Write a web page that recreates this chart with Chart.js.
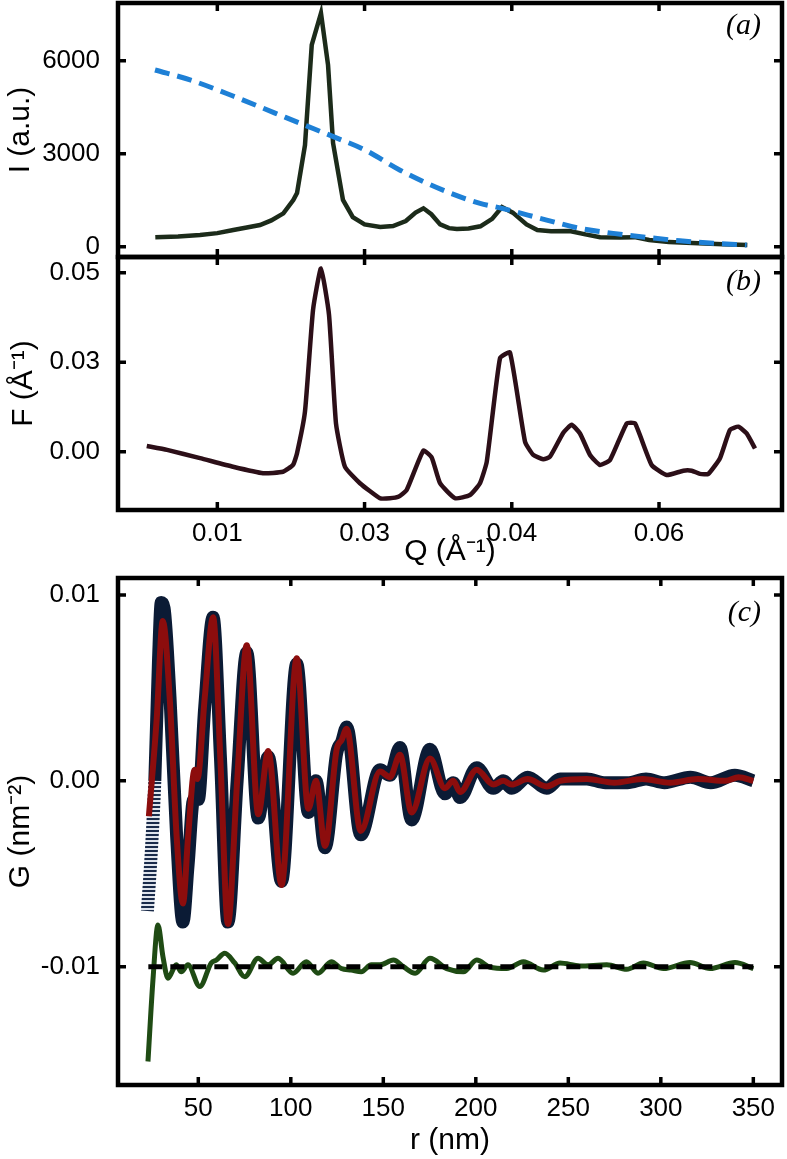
<!DOCTYPE html>
<html>
<head>
<meta charset="utf-8">
<script src="https://cdn.jsdelivr.net/npm/chart.js@4.4.1/dist/chart.umd.min.js"></script>
<style>
  body { margin: 0; background: #fff; }
  #wrap { position: relative; width: 787px; height: 1159px; }
  canvas { position: absolute; left: 0; }
</style>
</head>
<body>
<div id="wrap">
  <canvas id="chartA" width="787" height="262" style="top:0px"></canvas>
  <canvas id="chartB" width="787" height="320" style="top:250px"></canvas>
  <canvas id="chartC" width="787" height="589" style="top:570px"></canvas>
</div>
<script>
// tick values and their printed labels
const qTicks = [0.01, 0.025, 0.04, 0.055];
const qTickLabels = ['0.01', '0.03', '0.04', '0.06'];
const iTicks = [0, 3000, 6000];
const iTickLabels = ['0', '3000', '6000'];
const fTicks = [0, 0.025, 0.05];
const fTickLabels = ['0.00', '0.03', '0.05'];
const rTicks = [50, 100, 150, 200, 250, 300, 350];
const rTickLabels = ['50', '100', '150', '200', '250', '300', '350'];
const gTicks = [-0.01, 0, 0.01];
const gTickLabels = ['-0.01', '0.00', '0.01'];

// (a) measured intensity
const qObs = [0.00368, 0.0060, 0.00824, 0.0100, 0.01163, 0.0130, 0.01435, 0.0155, 0.01673, 0.01774,
  0.01812, 0.01893, 0.01962, 0.02056, 0.02128, 0.02179, 0.0228, 0.0238, 0.0250, 0.0266,
  0.0279, 0.0292, 0.0302, 0.0310, 0.0318, 0.0327, 0.0336, 0.0344, 0.0356, 0.0368,
  0.0380, 0.0390, 0.0401, 0.0415, 0.0426, 0.0440, 0.0459, 0.0475, 0.0490, 0.0510,
  0.0525, 0.0540, 0.0560, 0.0590, 0.0615, 0.0640];
const iObs = [303, 330, 377, 440, 539, 620, 700, 850, 1077, 1506,
  1732, 3275, 6510, 7530, 5860, 3345, 1510, 955, 720, 640,
  670, 830, 1100, 1240, 1050, 720, 600, 570, 590, 660,
  900, 1280, 1100, 720, 540, 500, 510, 400, 310, 300,
  310, 220, 150, 110, 80, 60];

// (a) dashed model curve
const qCalc = [0.00365, 0.00722, 0.0116, 0.01588, 0.01843, 0.02182, 0.02505, 0.02862, 0.03337, 0.03677,
  0.0390, 0.04356, 0.04695, 0.05034, 0.05375, 0.05714, 0.06053, 0.06393];
const iCalc = [5700, 5380, 4860, 4310, 3980, 3550, 3120, 2470, 1775, 1400,
  1240, 861, 593, 432, 303, 194, 110, 55];

// (b) reduced structure function
const fQ = [0.00281, 0.00488, 0.00824, 0.0116, 0.01466, 0.01669, 0.01771, 0.01812, 0.01893, 0.01975,
  0.02056, 0.02138, 0.02209, 0.0230, 0.02453, 0.02657, 0.02759, 0.02844, 0.02929, 0.03099,
  0.03184, 0.03269, 0.03422, 0.03574, 0.03676, 0.03745, 0.0388, 0.03982, 0.04135, 0.04219,
  0.04321, 0.04389, 0.04525, 0.0461, 0.04695, 0.04797, 0.04899, 0.05001, 0.05171, 0.05256,
  0.05425, 0.05578, 0.05747, 0.05833, 0.05917, 0.06002, 0.06121, 0.06223, 0.06308, 0.06393,
  0.06478];
const fVal = [0.0016, 0.0005, -0.0018, -0.0042, -0.0060, -0.0056, -0.0037, -0.0004, 0.0112, 0.0396,
  0.0512, 0.0382, 0.0079, -0.0042, -0.0088, -0.0130, -0.0130, -0.0126, -0.0107, 0.0003,
  -0.0016, -0.0088, -0.0130, -0.0121, -0.0088, -0.0028, 0.0261, 0.0277, 0.0028, -0.0009,
  -0.0021, -0.0014, 0.0053, 0.0075, 0.0051, -0.0009, -0.0037, -0.0023, 0.0079, 0.0079,
  -0.0037, -0.0065, -0.0053, -0.0053, -0.0062, -0.0062, -0.0018, 0.0061, 0.0070, 0.0051,
  0.0009];

// (c) PDF data (circles)
const rObs = [22.5, 24.5, 26.5, 28.5, 30.0, 31.5, 34.7, 38.3, 41.7, 44.5,
  47.5, 50.0, 53.5, 58.0, 62.0, 66.0, 71.0, 76.2, 82.4, 87.8,
  95.0, 103.2, 109.5, 113.6, 118.5, 124.8, 127.5, 130.2, 137.8, 148.2,
  153.6, 159.0, 165.3, 175.2, 183.3, 187.8, 191.5, 200.5, 209.5, 214.9,
  219.4, 228, 238.3, 245.5, 260, 270, 282, 292, 302, 316,
  327, 340, 350];
const gObs = [-0.0070, -0.0040, 0.0000, 0.0065, 0.0096, 0.0093, 0.0045, -0.0030, -0.0076, -0.0045,
  -0.0010, -0.0010, 0.0040, 0.0088, 0.0012, -0.0076, 0.0000, 0.0069, -0.0020, 0.0013,
  -0.0054, 0.0063, -0.0017, 0.0000, -0.0036, 0.0015, 0.0021, 0.0029, -0.0029, 0.0006,
  0.0003, 0.0018, -0.0021, 0.0017, -0.0007, -0.0001, -0.0009, 0.0007, -0.0004, 0.0000,
  -0.0004, 0.0002, -0.0004, 0.0001, 0.0001, -0.0001, -0.0001, 0.0001, -0.0001, 0.0002,
  -0.0001, 0.0003, 0.0000];

// (c) fit
const rFit = [23.3, 27.5, 30.8, 34.7, 38.3, 41.7, 44.5, 48.0, 49.5, 53.5,
  58.0, 62.0, 66.0, 71.0, 76.2, 82.4, 87.8, 95.0, 103.2, 109.5,
  113.6, 118.5, 124.8, 127.5, 130.2, 137.8, 148.2, 153.6, 159.0, 165.3,
  175.2, 183.3, 187.8, 191.5, 200.5, 209.5, 214.9, 219.4, 228, 238.3,
  245.5, 260, 275, 290, 305, 320, 335, 342, 350];
const gFit = [-0.0019, 0.0033, 0.0086, 0.0042, -0.0030, -0.0066, -0.0030, 0.0006, 0.0001, 0.0045,
  0.0088, 0.0010, -0.0077, 0.0000, 0.0073, -0.0018, 0.0016, -0.0056, 0.0066, -0.0015,
  0.0000, -0.0035, 0.0017, 0.0022, 0.0028, -0.0027, 0.0005, 0.0002, 0.0014, -0.0017,
  0.0012, -0.0004, 0.0000, -0.0006, 0.0006, -0.0002, 0.0000, -0.0002, 0.0001, -0.0003,
  0.0000, 0.0001, -0.0001, 0.0001, -0.0001, 0.0001, 0.0000, 0.0002, 0.0000];

// (c) difference, shifted by -0.01
const rDiff = [22.8, 25.5, 28.2, 30.9, 33.6, 38.1, 40.8, 44.4, 50.8, 57.0,
  59.8, 64.3, 69.7, 75.1, 82.3, 87.7, 93.1, 101.2, 108.4, 114.7,
  121.9, 127.3, 132.7, 138.1, 143.5, 148.2, 155.5, 160.9, 167.2, 175.2,
  184.3, 193.3, 200.5, 207.7, 216.7, 225.7, 236.5, 245.5, 256.3, 270.8,
  281.6, 290.6, 301.4, 315.8, 326.6, 340.1, 350];
const gDiff = [-0.0151, -0.0107, -0.00776, -0.00946, -0.01062, -0.0099, -0.01027, -0.0099, -0.01107, -0.0098,
  -0.00964, -0.00928, -0.0098, -0.01054, -0.00955, -0.0099, -0.00955, -0.01035, -0.00973, -0.01035,
  -0.00973, -0.0101, -0.01018, -0.01027, -0.0099, -0.0099, -0.00964, -0.0100, -0.01035, -0.00955,
  -0.0101, -0.01027, -0.00964, -0.01003, -0.0101, -0.00973, -0.01018, -0.0098, -0.00996, -0.0099,
  -0.01014, -0.0098, -0.0101, -0.00978, -0.0101, -0.00978, -0.0101];
const rBase = [23, 350];
const gBase = [-0.01, -0.01];

const pts = (xs, ys) => xs.map((x, i) => ({ x: x, y: ys[i] }));

Chart.defaults.font.family = '"Liberation Sans", Arial, sans-serif';
Chart.defaults.color = '#000';

// frame with inward ticks on all four sides, plus the panel letter
const framePlugin = {
  id: 'frame',
  afterDraw(chart, args, opts) {
    const { ctx, chartArea: a } = chart;
    const xs = chart.scales.x, ys = chart.scales.y;
    const len = 8;
    ctx.save();
    ctx.strokeStyle = '#000';
    ctx.lineWidth = 3.5;
    ctx.beginPath();
    xs.ticks.forEach(t => {
      const p = xs.getPixelForValue(t.value);
      ctx.moveTo(p, a.bottom); ctx.lineTo(p, a.bottom - len);
      ctx.moveTo(p, a.top); ctx.lineTo(p, a.top + len);
    });
    ys.ticks.forEach(t => {
      const p = ys.getPixelForValue(t.value);
      ctx.moveTo(a.left, p); ctx.lineTo(a.left + len, p);
      ctx.moveTo(a.right, p); ctx.lineTo(a.right - len, p);
    });
    ctx.stroke();
    ctx.lineWidth = 4.5;
    ctx.strokeRect(a.left, a.top, a.right - a.left, a.bottom - a.top);
    if (opts.label) {
      ctx.fillStyle = '#000';
      ctx.font = 'italic 30px "Liberation Serif", "Times New Roman", serif';
      ctx.textAlign = 'right';
      ctx.textBaseline = 'middle';
      ctx.fillText(opts.label, a.right - 21, a.top + opts.dy);
    }
    ctx.restore();
  }
};

function fixedTicks(values) {
  return scale => { scale.ticks = values.map(v => ({ value: v })); };
}
function labelFrom(values, labels) {
  return value => {
    const i = values.findIndex(v => Math.abs(v - value) < 1e-9);
    return i >= 0 ? labels[i] : '';
  };
}
// fixed scale sizes, no automatic edge padding
function fitY(width) {
  return s => { s.width = width; s.paddingTop = 0; s.paddingBottom = 0; };
}
function fitX(height) {
  return s => { s.height = height; s.paddingLeft = 0; s.paddingRight = 0; };
}

// striped stroke for the steep start of the data, where the rings stand apart
function ringPattern() {
  const c = document.createElement('canvas');
  c.width = 4; c.height = 4;
  const g = c.getContext('2d');
  g.fillStyle = '#dfe4ec';
  g.fillRect(0, 0, 4, 4);
  g.fillStyle = '#1a2b4a';
  g.fillRect(0, 0, 4, 2);
  return g.createPattern(c, 'repeat');
}
const rings = ringPattern();

const tickFont = { size: 26 };
const titleFont = { size: 30 };
const noGrid = { display: false, drawTicks: false };

const baseOptions = (extra) => Object.assign({
  responsive: false,
  animation: false,
  devicePixelRatio: 1,
  elements: { point: { radius: 0 } }
}, extra);

// (a)
new Chart(document.getElementById('chartA'), {
  type: 'line',
  data: {
    datasets: [
      {
        data: pts(qCalc, iCalc),
        borderColor: '#1e80d6',
        borderWidth: 5,
        borderDash: [15, 8],
        cubicInterpolationMode: 'monotone',
        order: 1
      },
      {
        data: pts(qObs, iObs),
        borderColor: '#1c2b1a',
        borderWidth: 4.5,
        tension: 0,
        order: 2
      }
    ]
  },
  options: baseOptions({
    layout: { padding: { top: 3, right: 5, left: 0, bottom: 0 }, autoPadding: false },
    scales: {
      x: {
        type: 'linear', min: -0.00012, max: 0.06753,
        grid: noGrid, border: { display: false },
        ticks: { display: false },
        afterBuildTicks: fixedTicks(qTicks),
        afterFit: fitX(5)
      },
      y: {
        min: -330, max: 7860,
        grid: noGrid, border: { display: false },
        ticks: { font: tickFont, padding: 18, callback: labelFrom(iTicks, iTickLabels) },
        afterBuildTicks: fixedTicks(iTicks),
        afterFit: fitY(118),
        title: { display: true, text: 'I (a.u.)', font: titleFont, padding: { top: 3, bottom: 0 } }
      }
    },
    plugins: { legend: { display: false }, tooltip: { enabled: false }, frame: { label: '(a)', dy: 23 } }
  }),
  plugins: [framePlugin]
});

// (b)
new Chart(document.getElementById('chartB'), {
  type: 'line',
  data: {
    datasets: [
      {
        data: pts(fQ, fVal),
        borderColor: '#2c0f18',
        borderWidth: 4.5,
        tension: 0.15
      }
    ]
  },
  options: baseOptions({
    layout: { padding: { top: 7, right: 5, left: 0, bottom: 0 }, autoPadding: false },
    scales: {
      x: {
        type: 'linear', min: -0.00012, max: 0.06753,
        grid: noGrid, border: { display: false },
        ticks: { font: tickFont, padding: 8, maxRotation: 0, callback: labelFrom(qTicks, qTickLabels) },
        afterBuildTicks: fixedTicks(qTicks),
        afterFit: fitX(60),
        title: { display: true, text: 'Q (Å⁻¹)', font: titleFont, padding: { top: 0, bottom: 0 } }
      },
      y: {
        min: -0.01628, max: 0.05439,
        grid: noGrid, border: { display: false },
        ticks: { font: tickFont, padding: 18, callback: labelFrom(fTicks, fTickLabels) },
        afterBuildTicks: fixedTicks(fTicks),
        afterFit: fitY(118),
        title: { display: true, text: 'F (Å⁻¹)', font: titleFont, padding: { top: 6, bottom: 0 } }
      }
    },
    plugins: { legend: { display: false }, tooltip: { enabled: false }, frame: { label: '(b)', dy: 25 } }
  }),
  plugins: [framePlugin]
});

// (c)
new Chart(document.getElementById('chartC'), {
  type: 'line',
  data: {
    datasets: [
      {
        data: pts(rBase, gBase),
        borderColor: '#000',
        borderWidth: 5,
        borderDash: [14, 8],
        order: 1
      },
      {
        data: pts(rDiff, gDiff),
        borderColor: '#1f4b14',
        borderWidth: 5,
        cubicInterpolationMode: 'monotone',
        order: 2
      },
      {
        data: pts(rFit, gFit),
        borderColor: '#8c0d0d',
        borderWidth: 6,
        cubicInterpolationMode: 'monotone',
        order: 3
      },
      {
        data: pts(rObs, gObs),
        borderColor: '#0b1b35',
        borderWidth: 13,
        cubicInterpolationMode: 'monotone',
        segment: {
          borderColor: c => (c.p1.parsed.x <= 26.5 ? rings : undefined)
        },
        order: 4
      }
    ]
  },
  options: baseOptions({
    layout: { padding: { top: 8, right: 5, left: 0, bottom: 0 }, autoPadding: false },
    scales: {
      x: {
        type: 'linear', min: 6.6, max: 365.5,
        grid: noGrid, border: { display: false },
        ticks: { font: tickFont, padding: 8, maxRotation: 0, callback: labelFrom(rTicks, rTickLabels) },
        afterBuildTicks: fixedTicks(rTicks),
        afterFit: fitX(74),
        title: { display: true, text: 'r (nm)', font: titleFont, padding: { top: 0, bottom: 0 } }
      },
      y: {
        min: -0.016365, max: 0.010915,
        grid: noGrid, border: { display: false },
        ticks: { font: tickFont, padding: 18, callback: labelFrom(gTicks, gTickLabels) },
        afterBuildTicks: fixedTicks(gTicks),
        afterFit: fitY(118),
        title: { display: true, text: 'G (nm⁻²)', font: titleFont, padding: { top: 3, bottom: 0 } }
      }
    },
    plugins: { legend: { display: false }, tooltip: { enabled: false }, frame: { label: '(c)', dy: 35 } }
  }),
  plugins: [framePlugin]
});
</script>
</body>
</html>
